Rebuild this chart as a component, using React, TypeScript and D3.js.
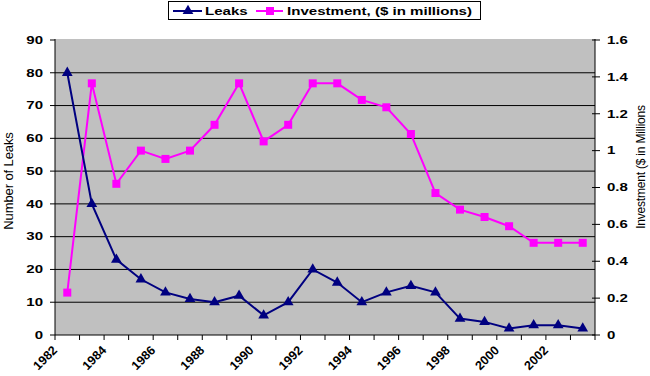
import React from "react";
import * as d3 from "d3";

const years = [1982, 1983, 1984, 1985, 1986, 1987, 1988, 1989, 1990, 1991, 1992, 1993, 1994, 1995, 1996, 1997, 1998, 1999, 2000, 2001, 2002, 2003];
const leaks = [80, 40, 23, 17, 13, 11, 10, 12, 6, 10, 20, 16, 10, 13, 15, 13, 5, 4, 2, 3, 3, 2];
const investment = [0.23, 1.365, 0.82, 1.0, 0.955, 1.0, 1.14, 1.365, 1.05, 1.14, 1.365, 1.365, 1.275, 1.235, 1.09, 0.77, 0.68, 0.64, 0.59, 0.5, 0.5, 0.5];
const leftTicks = [0, 10, 20, 30, 40, 50, 60, 70, 80, 90];
const rightTicks = [0, 0.2, 0.4, 0.6, 0.8, 1, 1.2, 1.4, 1.6];
const yearLabels = [1982, 1984, 1986, 1988, 1990, 1992, 1994, 1996, 1998, 2000, 2002];

const W = 650, H = 376;
const L = 55, R = 595, T = 40, B = 335;
const FONT = "Liberation Sans, Arial, sans-serif";

export default function App() {
  const x = d3.scaleBand<number>().domain(years).range([L, R]).padding(0);
  const bw = x.bandwidth();
  const cx = (yr: number) => (x(yr) as number) + bw / 2;
  const yL = d3.scaleLinear().domain([0, 90]).range([B, T]);
  const yR = d3.scaleLinear().domain([0, 1.6]).range([B, T]);

  const leakLine = d3.line<number>().x((_, i) => cx(years[i])).y((d) => yL(d))(leaks) as string;
  const invLine = d3.line<number>().x((_, i) => cx(years[i])).y((d) => yR(d))(investment) as string;

  const tickXs = d3.range(years.length + 1).map((i) => L + i * bw);
  const tri = d3.symbol().type(d3.symbolTriangle).size(50)() as string;

  return (
    <svg width={W} height={H} style={{ position: "absolute", left: 0, top: 0, background: "#fff" }} fontFamily={FONT}>
      <rect x={L} y={T - 1} width={R - L} height={B - T + 1} fill="#C0C0C0" />
      {leftTicks.filter((t) => t > 0 && t < 90).map((t) => (
        <line key={"g" + t} x1={L} x2={R} y1={yL(t)} y2={yL(t)} stroke="#000" strokeWidth={1} />
      ))}
      {/* axes */}
      <line x1={L} x2={L} y1={T - 1} y2={B} stroke="#000" />
      <line x1={R} x2={R} y1={T - 1} y2={B} stroke="#000" />
      <line x1={L} x2={R} y1={B} y2={B} stroke="#000" />
      {leftTicks.map((t) => (
        <g key={"l" + t}>
          <line x1={L - 5} x2={L} y1={yL(t)} y2={yL(t)} stroke="#000" />
          <text transform={`translate(43,${yL(t) + 3.8}) scale(1.5,1)`} textAnchor="end" fontSize={10} fontWeight="bold">{t}</text>
        </g>
      ))}
      {rightTicks.map((t) => (
        <g key={"r" + t}>
          <line x1={R - 3} x2={R + 5} y1={yR(t)} y2={yR(t)} stroke="#000" />
          <text transform={`translate(607,${yR(t) + 3.8}) scale(1.5,1)`} textAnchor="start" fontSize={10} fontWeight="bold">{String(t)}</text>
        </g>
      ))}
      {tickXs.map((tx, i) => (
        <line key={"xt" + i} x1={tx} x2={tx} y1={B} y2={B + 5} stroke="#000" />
      ))}
      {yearLabels.map((yr) => {
        const tx = x(yr) as number;
        return (
          <text key={"yl" + yr} transform={`translate(${tx + 3},${B + 16}) rotate(-45)`} textAnchor="end" fontSize={12.5} fontWeight="bold">{yr}</text>
        );
      })}
      <text transform={`translate(13,181) rotate(-90)`} textAnchor="middle" fontSize={13} letterSpacing={-0.1}>Number of Leaks</text>
      <text transform={`translate(645,167) rotate(-90)`} textAnchor="middle" fontSize={12} letterSpacing={-0.2}>Investment ($ in Millions</text>

      <path d={invLine} fill="none" stroke="#FF00FF" strokeWidth={2} />
      {investment.map((v, i) => (
        <rect key={"s" + i} x={cx(years[i]) - 4} y={yR(v) - 4} width={8} height={8} fill="#FF00FF" />
      ))}
      <path d={leakLine} fill="none" stroke="#000080" strokeWidth={2} />
      {leaks.map((v, i) => (
        <path key={"t" + i} d={tri} transform={`translate(${cx(years[i])},${yL(v)})`} fill="#000080" />
      ))}

      {/* legend */}
      <rect x={168.5} y={1.5} width={312} height={18} fill="#fff" stroke="#000" />
      <line x1={173} x2={202} y1={11} y2={11} stroke="#000080" strokeWidth={2} />
      <path d={tri} transform="translate(188,11)" fill="#000080" />
      <text transform="translate(205,15) scale(1.37,1)" fontSize={11} fontWeight="bold">Leaks</text>
      <line x1={256} x2={283} y1={11} y2={11} stroke="#FF00FF" strokeWidth={2} />
      <rect x={266} y={7} width={8} height={8} fill="#FF00FF" />
      <text transform="translate(287,15) scale(1.37,1)" fontSize={11} fontWeight="bold">Investment, ($ in millions)</text>
    </svg>
  );
}
